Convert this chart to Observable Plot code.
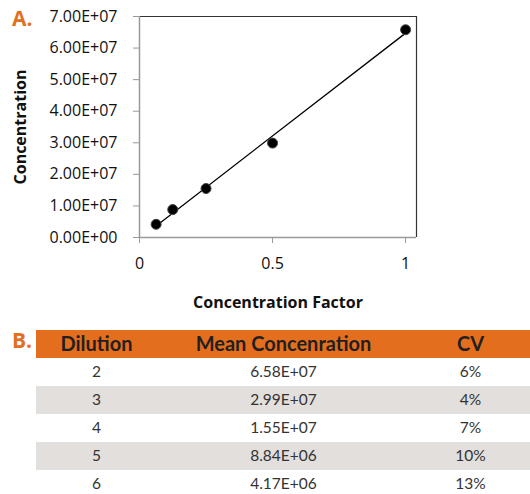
<!DOCTYPE html>
<html><head><meta charset="utf-8">
<script src="https://cdn.jsdelivr.net/npm/d3@7"></script>
<script src="https://cdn.jsdelivr.net/npm/@observablehq/plot@0.6"></script>
<style>
body{margin:0;width:530px;height:494px;overflow:hidden;background:#fff;position:relative;font-family:"Open Sans",sans-serif}
#chart svg,#table svg{display:block}
#table{margin-top:8px;margin-left:36px}
.tag{position:absolute;color:#E36F1E;font:bold 21px "Open Sans",sans-serif;line-height:1}
</style></head><body>
<div id="chart"></div>
<div id="table"></div>
<div class="tag" style="left:12px;top:8px">A.</div>
<div class="tag" style="left:12px;top:330px">B.</div>
<script>
// Data
const dilution = [2, 3, 4, 5, 6];
const factor = [1, 0.5, 0.25, 0.125, 0.0625];
const meanConc = [6.58e7, 2.99e7, 1.55e7, 8.84e6, 4.17e6];
const cvPct = [6, 4, 7, 10, 13];
const yTicks = [0, 1e7, 2e7, 3e7, 4e7, 5e7, 6e7, 7e7];
const xTicks = [0, 0.5, 1];
const columns = ["Dilution", "Mean Concenration", "CV"];

function sci(d) {
  if (d === 0) return "0.00E+00";
  const e = Math.floor(Math.log10(d));
  const m = d / Math.pow(10, e);
  return m.toFixed(2) + "E+" + String(e).padStart(2, "0");
}

const points = factor.map((f, i) => ({x: f, y: meanConc[i]}));
const xMax = 1.041, yMax = 7e7;

const chart = Plot.plot({
  width: 530, height: 320,
  marginLeft: 139, marginRight: 114, marginTop: 16, marginBottom: 83,
  x: {domain: [0, xMax]},
  y: {domain: [0, yMax]},
  style: {fontFamily: "'Open Sans', sans-serif", fontSize: "16px", color: "#000", background: "#fff"},
  marks: [
    Plot.ruleY([yMax], {stroke: "#333", strokeWidth: 1.2}),
    Plot.ruleX([xMax], {stroke: "#333", strokeWidth: 1.2}),
    Plot.axisY({ticks: yTicks, tickFormat: sci, tickSize: 6, tickPadding: 16, stroke: "#999", fill: "#111",
      label: "Concentration", labelAnchor: "center", labelOffset: 125, labelArrow: "none", fontSize: 16}),
    Plot.axisX({ticks: xTicks, tickFormat: d => String(d), tickSize: 6, tickPadding: 14, stroke: "#999", fill: "#111",
      label: "Concentration Factor", labelAnchor: "center", labelOffset: 70, labelArrow: "none", fontSize: 16}),
    Plot.ruleY([0], {stroke: "#999", strokeWidth: 1.5}),
    Plot.ruleX([0], {stroke: "#999", strokeWidth: 1.5}),
    Plot.linearRegressionY(points, {x: "x", y: "y", stroke: "#000", strokeWidth: 1.3, ci: 0}),
    Plot.dot(points, {x: "x", y: "y", r: 5, fill: "#000", stroke: "#444", strokeWidth: 1})
  ]
});
chart.querySelectorAll('[aria-label$="axis label"] text, [aria-label$="axis label"]').forEach(el => {
  el.setAttribute("font-weight", "bold");
});
document.getElementById("chart").append(chart);

// Table
const rows = dilution.map((d, i) => ({row: String(d), conc: sci(meanConc[i]), cv: cvPct[i] + "%", shade: i % 2 === 1}));
const rowDomain = ["head", ...rows.map(r => r.row)];
const table = Plot.plot({
  width: 494, height: 172,
  margin: 0,
  x: {type: "point", domain: columns, range: [59, 434], padding: 0, axis: null},
  y: {type: "band", domain: rowDomain, range: [0, 172], padding: 0, axis: null},
  style: {fontFamily: "Lato, sans-serif", background: "#fff"},
  marks: [
    Plot.cell(["head"], {y: d => d, fill: "#E36F1E"}),
    Plot.cell(rows.filter(r => r.shade), {y: "row", fill: "#E2DFDC"}),
    Plot.text(columns, {x: d => d, y: () => "head", text: d => d, fontWeight: "bold", fontSize: 20, fill: "#231F20"}),
    Plot.text(rows, {x: () => columns[0], y: "row", text: "row", fontSize: 15.5, fill: "#333"}),
    Plot.text(rows, {x: () => columns[1], y: "row", text: "conc", fontSize: 15.5, fill: "#333"}),
    Plot.text(rows, {x: () => columns[2], y: "row", text: "cv", fontSize: 15.5, fill: "#333"})
  ]
});
document.getElementById("table").append(table);
</script>
</body></html>
